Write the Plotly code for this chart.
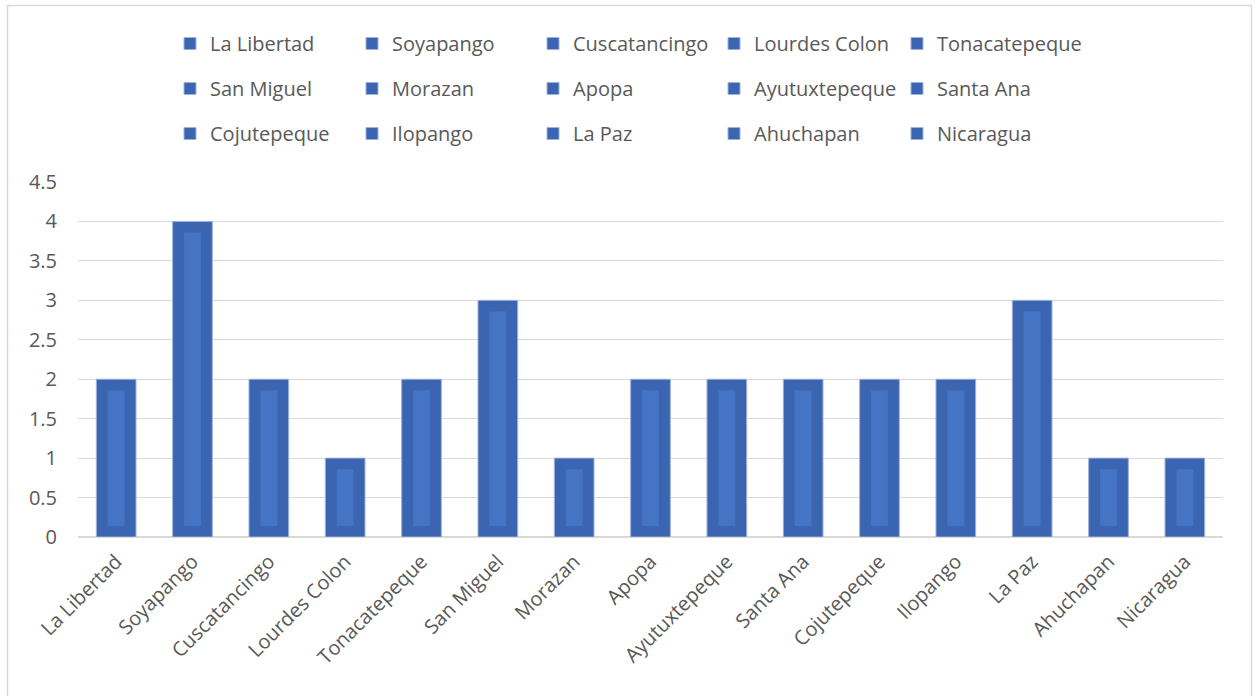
import plotly.graph_objects as go

categories = ["La Libertad", "Soyapango", "Cuscatancingo", "Lourdes Colon", "Tonacatepeque",
              "San Miguel", "Morazan", "Apopa", "Ayutuxtepeque", "Santa Ana",
              "Cojutepeque", "Ilopango", "La Paz", "Ahuchapan", "Nicaragua"]
values = [2, 4, 2, 1, 2, 3, 1, 2, 2, 2, 2, 2, 3, 1, 1]
y_ticks = [0, 0.5, 1, 1.5, 2, 2.5, 3, 3.5, 4, 4.5]
y_tick_labels = ["0", "0.5", "1", "1.5", "2", "2.5", "3", "3.5", "4", "4.5"]

OUTER = "#3B65B0"
INNER = "#4674C4"
EDGE = "#9DB3DE"
TXT = "#595959"
FONT = "Open Sans"
FS = 20

fig = go.Figure()
legend_ids = ["legend", "legend2", "legend3", "legend4", "legend5"]
for i, (c, v) in enumerate(zip(categories, values)):
    fig.add_trace(go.Bar(
        x=[c], y=[v], name=c, width=0.52,
        marker=dict(color=OUTER, line=dict(color=EDGE, width=1)),
        legend=legend_ids[i % 5], legendgroup=c, showlegend=True, hoverinfo="x+y",
    ))
# inner lighter panel of each bar (Excel-like bevel)
inset = 0.14
for c, v in zip(categories, values):
    fig.add_trace(go.Bar(
        x=[c], y=[v - 2 * inset], base=[inset], width=0.22,
        marker=dict(color=INNER, line=dict(width=0)),
        showlegend=False, hoverinfo="skip",
    ))

L, R, T, B = 78, 35, 182, 159
W, H = 1258, 696
pw, ph = W - L - R, H - T - B

def px_x(x):
    return (x - L) / pw

def px_y(y):
    return (H - B - y) / ph

leg_common = dict(orientation="v", xanchor="left", yanchor="top",
                  traceorder="grouped", tracegroupgap=16,
                  font=dict(family=FONT, size=FS, color=TXT),
                  bgcolor="rgba(0,0,0,0)", itemclick=False, itemdoubleclick=False)
col_x = [185, 367, 548, 729, 912]
legend_top = 24

layout_legends = {}
for k, lid in enumerate(legend_ids):
    layout_legends[lid] = dict(x=px_x(col_x[k] - 15), y=px_y(legend_top), **leg_common)

fig.update_layout(
    width=W, height=H,
    margin=dict(l=L, r=R, t=T, b=B),
    paper_bgcolor="white", plot_bgcolor="white",
    barmode="overlay", bargap=0.48,
    font=dict(family=FONT, size=FS, color=TXT),
    xaxis=dict(categoryorder="array", categoryarray=categories,
               tickangle=-45, showgrid=False, showline=True, linecolor="#D9D9D9",
               linewidth=1, ticks="", ticklabelstandoff=4,
               tickfont=dict(family=FONT, size=FS, color=TXT)),
    yaxis=dict(range=[0, 4.5], tickvals=y_ticks, ticktext=y_tick_labels,
               showgrid=True, gridcolor="#D9D9D9", gridwidth=1,
               zeroline=True, zerolinecolor="#D9D9D9", showline=False,
               ticks="", ticklabelstandoff=20,
               tickfont=dict(family=FONT, size=FS, color=TXT)),
    shapes=[dict(type="rect", xref="paper", yref="paper",
                 x0=px_x(7.5), x1=px_x(1251.5), y0=px_y(705), y1=px_y(5.5),
                 line=dict(color="#D9D9D9", width=1.5), fillcolor="rgba(0,0,0,0)",
                 layer="below")],
    **layout_legends,
)

fig.write_html("out.html")
